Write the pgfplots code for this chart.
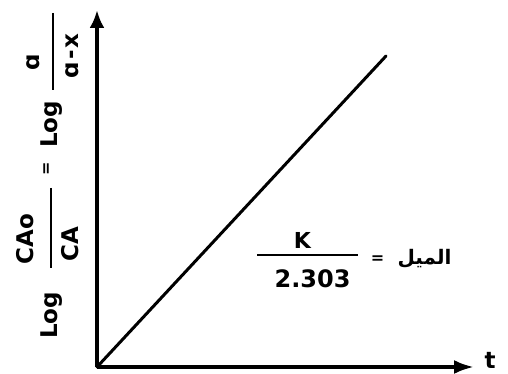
\documentclass[border=0pt]{standalone}
\usepackage{fontspec}
\setmainfont{DejaVu Sans}
\newfontfamily\arabicfont[Script=Arabic]{DejaVu Sans}
\TeXXeTstate=1
\usepackage{pgfplots}
\pgfplotsset{compat=1.18}
\usetikzlibrary{arrows.meta}

\newcommand\fs[1]{\fontsize{#1}{#1}\selectfont\bfseries}

\begin{document}
\begin{tikzpicture}[x=1pt,y=1pt]
\useasboundingbox (0,0) rectangle (508,374);

\begin{axis}[
  at={(97pt,7pt)}, anchor=south west,
  scale only axis, width=377pt, height=357pt,
  xmin=0, xmax=377, ymin=0, ymax=357,
  axis lines=left, ticks=none, clip=false,
  x axis line style={line width=3.6pt, -{Latex[length=20pt,width=14pt]}},
  y axis line style={line width=3.6pt, -{Latex[length=18pt,width=15pt]}},
]
  % first-order kinetics: log(C_A0/C_A) grows linearly with t
  \addplot[black, line width=3pt, line cap=round] coordinates {(0,0) (289,311)};
\end{axis}

% vertical axis label
\begin{scope}[every node/.style={inner sep=0pt, rotate=90}]
  \node at (51.5,58.5) {\fs{23}Log};
  \node at (25.5,135) {\fs{23}CAo};
  \node at (70,129.5) {\fs{23}CA};
  \node at (48,205) {\fs{16}=};
  \node at (51.5,249.5) {\fs{23}Log};
  \node at (33.5,311.5) {\fs{23}ɑ};
  \node at (72.5,318) {\fs{23}ɑ\hspace{2pt}-\hspace{2pt}x};
\end{scope}
\draw[line width=2.6pt] (51,186) -- (51,106);
\draw[line width=2.6pt] (53,361) -- (53,284);

% slope annotation
\begin{scope}[every node/.style={inner sep=0pt}]
  \node at (302.5,134) {\fs{22}K};
  \node at (312.5,95.5) {\fs{24}2.303};
  \node at (377.5,114) {\fs{16}=};
  \node at (424.5,115) {\arabicfont\fontsize{20}{20}\selectfont\bfseries\beginR الميل\endR};
  \node at (490,14) {\fs{23}t};
\end{scope}
\draw[line width=2.6pt] (257,119) -- (358,119);
\end{tikzpicture}
\end{document}
